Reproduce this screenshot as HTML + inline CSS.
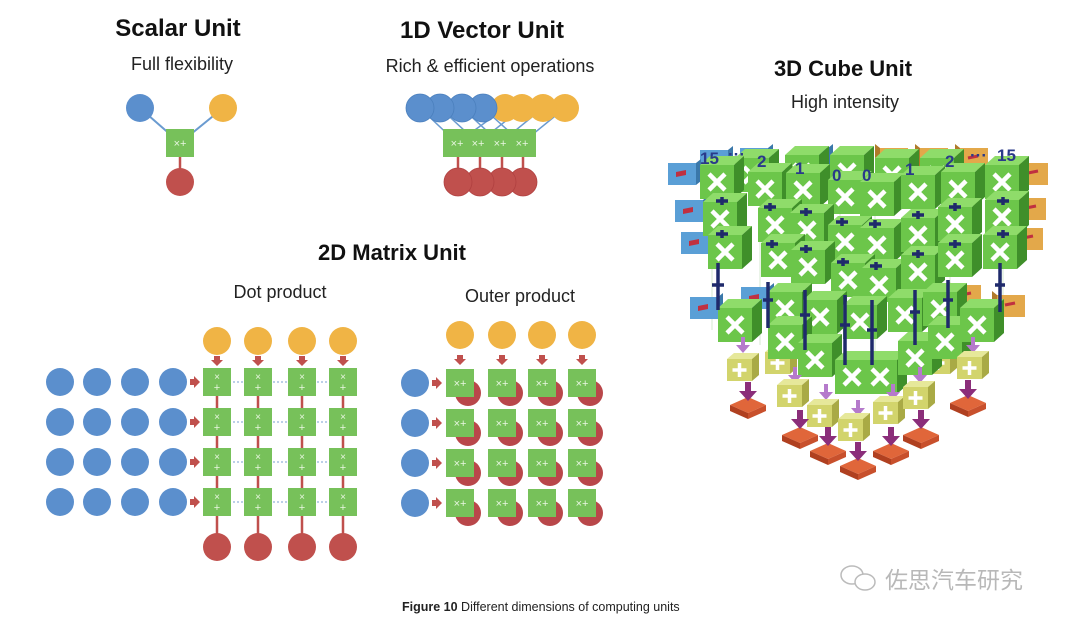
<!DOCTYPE html>
<html><head><meta charset="utf-8"><style>
html,body{margin:0;padding:0;background:#fff;}
svg{display:block;}
text{font-family:"Liberation Sans","Noto Sans CJK SC",sans-serif;}
</style></head><body>
<svg width="1080" height="627" viewBox="0 0 1080 627" xmlns="http://www.w3.org/2000/svg">
<defs>
<g id="gs"><rect x="-14" y="-14" width="28" height="28" fill="#77c15a"/><text x="0" y="-2" font-size="10" fill="#e8f6e0" text-anchor="middle">×</text><text x="0" y="9" font-size="11" fill="#e8f6e0" text-anchor="middle">+</text></g>
<g id="go"><rect x="-14" y="-14" width="28" height="28" fill="#77c15a"/><text x="0" y="4" font-size="11" fill="#e8f6e0" text-anchor="middle">×+</text></g>
<path id="ad" d="M-3,-5 h6 v4 h3 l-6,6 l-6,-6 h3z" fill="#c0504d"/>
<path id="ar" d="M-5,-3 v6 h4 v3 l6,-6 l-6,-6 v3z" fill="#c0504d"/>
<g id="cb"><path d="M0,0 l10,-9 h34 l-10,9z" fill="#8fdc6a"/><path d="M34,0 l10,-9 v34 l-10,9z" fill="#3f8f2a"/><rect width="34" height="34" fill="#6cc64a"/><path d="M9,9 l16,16 M25,9 l-16,16" stroke="#fff" stroke-width="4.5"/></g>
<g id="yb"><path d="M0,0 l7,-6 h25 l-7,6z" fill="#e6e89a"/><path d="M25,0 l7,-6 v22 l-7,6z" fill="#a9aa45"/><rect width="25" height="22" fill="#d2d46c"/><path d="M12.5,4 v14 M5.5,11 h14" stroke="#fff" stroke-width="3.5"/></g>
<g id="rb"><path d="M0,8 l18,-8 l18,8 l-18,8z" fill="#e0663a"/><path d="M0,8 l18,8 v6 l-18,-8z" fill="#b04020"/><path d="M36,8 l-18,8 v6 l18,-8z" fill="#c8502c"/></g>
<g id="bl"><rect width="28" height="22" fill="#5a9fd6"/><path d="M28,0 l5,-4 v22 l-5,4z" fill="#3a78aa"/><path d="M8,9 l10,-2 v5 l-10,2z" fill="#c03040"/></g>
<g id="or"><rect width="28" height="22" fill="#e3a84a"/><path d="M0,0 l-5,-4 v22 l5,4z" fill="#b07a2a"/><path d="M8,10 l10,-2" stroke="#c03040" stroke-width="3"/></g>
<path id="pa" d="M-2,-10 h4 v8 h5 l-7,8 l-7,-8 h5z" fill="#b57acb"/>
<path id="da" d="M-3,-10 h6 v9 h6 l-9,10 l-9,-10 h6z" fill="#8b2e7a"/>
</defs>

<text x="178" y="36" font-size="24" font-weight="bold" text-anchor="middle" fill="#111">Scalar Unit</text>
<text x="182" y="70" font-size="18" text-anchor="middle" fill="#222">Full flexibility</text>
<text x="482" y="38" font-size="24" font-weight="bold" text-anchor="middle" fill="#111">1D Vector Unit</text>
<text x="490" y="72" font-size="18" text-anchor="middle" fill="#222">Rich &amp; efficient operations</text>
<text x="843" y="76" font-size="22" font-weight="bold" text-anchor="middle" fill="#111">3D Cube Unit</text>
<text x="845" y="108" font-size="18" text-anchor="middle" fill="#222">High intensity</text>
<text x="392" y="260" font-size="22" font-weight="bold" text-anchor="middle" fill="#111">2D Matrix Unit</text>
<text x="280" y="298" font-size="18" text-anchor="middle" fill="#222">Dot product</text>
<text x="520" y="302" font-size="18" text-anchor="middle" fill="#222">Outer product</text>

<path d="M140,108 L180,143 L223,108" stroke="#6a9bd0" stroke-width="2" fill="none"/>
<line x1="180" y1="143" x2="180" y2="182" stroke="#c0504d" stroke-width="2.5"/>
<circle cx="140" cy="108" r="14" fill="#5b8fcd"/><circle cx="223" cy="108" r="14" fill="#f0b445"/>
<use href="#go" x="180" y="143"/>
<circle cx="180" cy="182" r="14" fill="#c0504d"/>

<g stroke="#6a9bd0" stroke-width="1.5">
<line x1="420" y1="108" x2="457" y2="143"/><line x1="440" y1="108" x2="478" y2="143"/><line x1="462" y1="108" x2="500" y2="143"/><line x1="483" y1="108" x2="522" y2="143"/>
<line x1="505" y1="108" x2="457" y2="143"/><line x1="522" y1="108" x2="478" y2="143"/><line x1="543" y1="108" x2="500" y2="143"/><line x1="565" y1="108" x2="522" y2="143"/>
</g>
<g stroke="#c0504d" stroke-width="2.5"><line x1="458" y1="143" x2="458" y2="182"/><line x1="480" y1="143" x2="480" y2="182"/><line x1="502" y1="143" x2="502" y2="182"/><line x1="523" y1="143" x2="523" y2="182"/></g>
<g fill="#f0b445"><circle cx="565" cy="108" r="14"/><circle cx="543" cy="108" r="14"/><circle cx="522" cy="108" r="14"/><circle cx="505" cy="108" r="14"/></g>
<g fill="#5b8fcd" stroke="#4a7fbd" stroke-width="0.8"><circle cx="483" cy="108" r="14"/><circle cx="462" cy="108" r="14"/><circle cx="440" cy="108" r="14"/><circle cx="420" cy="108" r="14"/></g>
<g><use href="#go" x="457" y="143"/><use href="#go" x="478" y="143"/><use href="#go" x="500" y="143"/><use href="#go" x="522" y="143"/></g>
<g fill="#c0504d" stroke="#b04040" stroke-width="0.8"><circle cx="523" cy="182" r="14"/><circle cx="502" cy="182" r="14"/><circle cx="480" cy="182" r="14"/><circle cx="458" cy="182" r="14"/></g>

<g stroke="#c0504d" stroke-width="2.5"><line x1="217" y1="382" x2="217" y2="547"/><line x1="258" y1="382" x2="258" y2="547"/><line x1="302" y1="382" x2="302" y2="547"/><line x1="343" y1="382" x2="343" y2="547"/></g>
<g stroke="#7a9fd0" stroke-width="1" stroke-dasharray="2,2"><line x1="217" y1="382" x2="343" y2="382"/><line x1="217" y1="422" x2="343" y2="422"/><line x1="217" y1="462" x2="343" y2="462"/><line x1="217" y1="502" x2="343" y2="502"/></g>
<g fill="#f0b445"><circle cx="217" cy="341" r="14"/><circle cx="258" cy="341" r="14"/><circle cx="302" cy="341" r="14"/><circle cx="343" cy="341" r="14"/></g>
<g fill="#c0504d"><circle cx="217" cy="547" r="14"/><circle cx="258" cy="547" r="14"/><circle cx="302" cy="547" r="14"/><circle cx="343" cy="547" r="14"/></g>
<g><use href="#ad" x="217" y="361"/><use href="#ad" x="258" y="361"/><use href="#ad" x="302" y="361"/><use href="#ad" x="343" y="361"/></g>
<g fill="#5b8fcd">
<circle cx="60" cy="382" r="14"/><circle cx="97" cy="382" r="14"/><circle cx="135" cy="382" r="14"/><circle cx="173" cy="382" r="14"/>
<circle cx="60" cy="422" r="14"/><circle cx="97" cy="422" r="14"/><circle cx="135" cy="422" r="14"/><circle cx="173" cy="422" r="14"/>
<circle cx="60" cy="462" r="14"/><circle cx="97" cy="462" r="14"/><circle cx="135" cy="462" r="14"/><circle cx="173" cy="462" r="14"/>
<circle cx="60" cy="502" r="14"/><circle cx="97" cy="502" r="14"/><circle cx="135" cy="502" r="14"/><circle cx="173" cy="502" r="14"/>
</g>
<g><use href="#ar" x="195" y="382"/><use href="#ar" x="195" y="422"/><use href="#ar" x="195" y="462"/><use href="#ar" x="195" y="502"/></g>
<g>
<use href="#gs" x="217" y="382"/><use href="#gs" x="258" y="382"/><use href="#gs" x="302" y="382"/><use href="#gs" x="343" y="382"/>
<use href="#gs" x="217" y="422"/><use href="#gs" x="258" y="422"/><use href="#gs" x="302" y="422"/><use href="#gs" x="343" y="422"/>
<use href="#gs" x="217" y="462"/><use href="#gs" x="258" y="462"/><use href="#gs" x="302" y="462"/><use href="#gs" x="343" y="462"/>
<use href="#gs" x="217" y="502"/><use href="#gs" x="258" y="502"/><use href="#gs" x="302" y="502"/><use href="#gs" x="343" y="502"/>
</g>

<g fill="#f0b445"><circle cx="460" cy="335" r="14"/><circle cx="502" cy="335" r="14"/><circle cx="542" cy="335" r="14"/><circle cx="582" cy="335" r="14"/></g>
<g><use href="#ad" x="460" y="360"/><use href="#ad" x="502" y="360"/><use href="#ad" x="542" y="360"/><use href="#ad" x="582" y="360"/></g>
<g fill="#5b8fcd"><circle cx="415" cy="383" r="14"/><circle cx="415" cy="423" r="14"/><circle cx="415" cy="463" r="14"/><circle cx="415" cy="503" r="14"/></g>
<g><use href="#ar" x="437" y="383"/><use href="#ar" x="437" y="423"/><use href="#ar" x="437" y="463"/><use href="#ar" x="437" y="503"/></g>
<g fill="#b9474a">
<circle cx="468" cy="393" r="13"/><circle cx="510" cy="393" r="13"/><circle cx="550" cy="393" r="13"/><circle cx="590" cy="393" r="13"/>
<circle cx="468" cy="433" r="13"/><circle cx="510" cy="433" r="13"/><circle cx="550" cy="433" r="13"/><circle cx="590" cy="433" r="13"/>
<circle cx="468" cy="473" r="13"/><circle cx="510" cy="473" r="13"/><circle cx="550" cy="473" r="13"/><circle cx="590" cy="473" r="13"/>
<circle cx="468" cy="513" r="13"/><circle cx="510" cy="513" r="13"/><circle cx="550" cy="513" r="13"/><circle cx="590" cy="513" r="13"/>
</g>
<g>
<use href="#go" x="460" y="383"/><use href="#go" x="502" y="383"/><use href="#go" x="542" y="383"/><use href="#go" x="582" y="383"/>
<use href="#go" x="460" y="423"/><use href="#go" x="502" y="423"/><use href="#go" x="542" y="423"/><use href="#go" x="582" y="423"/>
<use href="#go" x="460" y="463"/><use href="#go" x="502" y="463"/><use href="#go" x="542" y="463"/><use href="#go" x="582" y="463"/>
<use href="#go" x="460" y="503"/><use href="#go" x="502" y="503"/><use href="#go" x="542" y="503"/><use href="#go" x="582" y="503"/>
</g>

<!-- 3D Cube -->
<g stroke="#d6ead0" stroke-width="1" fill="none">
<path d="M712,195 V330 M760,200 V345 M800,205 V365 M840,210 V385 M875,210 V385 M913,205 V365 M950,200 V345 M1003,195 V330"/>
</g>
<g><use href="#bl" x="700" y="150"/><use href="#bl" x="740" y="148"/><use href="#bl" x="800" y="148"/><use href="#or" x="880" y="148"/><use href="#or" x="920" y="148"/><use href="#or" x="960" y="148"/></g>
<g><use href="#cb" x="735" y="158"/><use href="#cb" x="785" y="155"/><use href="#cb" x="830" y="155"/><use href="#cb" x="875" y="158"/><use href="#cb" x="920" y="158"/></g>
<g><use href="#bl" x="668" y="163"/><use href="#bl" x="675" y="200"/><use href="#bl" x="681" y="232"/><use href="#bl" x="690" y="297"/><use href="#bl" x="741" y="287"/></g>
<g><use href="#or" x="1020" y="163"/><use href="#or" x="1018" y="198"/><use href="#or" x="1015" y="228"/><use href="#or" x="997" y="295"/><use href="#or" x="953" y="285"/></g>
<g><use href="#cb" x="700" y="165"/><use href="#cb" x="748" y="172"/><use href="#cb" x="786" y="173"/><use href="#cb" x="828" y="180"/><use href="#cb" x="860" y="182"/><use href="#cb" x="901" y="175"/><use href="#cb" x="941" y="172"/><use href="#cb" x="985" y="165"/></g>
<g><use href="#cb" x="703" y="202"/><use href="#cb" x="758" y="208"/><use href="#cb" x="790" y="213"/><use href="#cb" x="828" y="225"/><use href="#cb" x="860" y="228"/><use href="#cb" x="901" y="218"/><use href="#cb" x="938" y="207"/><use href="#cb" x="985" y="200"/></g>
<g><use href="#cb" x="708" y="235"/><use href="#cb" x="761" y="243"/><use href="#cb" x="791" y="250"/><use href="#cb" x="831" y="263"/><use href="#cb" x="862" y="268"/><use href="#cb" x="901" y="255"/><use href="#cb" x="938" y="243"/><use href="#cb" x="983" y="235"/></g>
<g><use href="#cb" x="768" y="292"/><use href="#cb" x="803" y="300"/><use href="#cb" x="843" y="305"/><use href="#cb" x="888" y="298"/><use href="#cb" x="923" y="292"/></g>
<g><use href="#yb" x="765" y="352"/><use href="#yb" x="925" y="352"/></g>
<g><use href="#cb" x="718" y="308"/><use href="#cb" x="768" y="325"/><use href="#cb" x="798" y="343"/><use href="#cb" x="835" y="360"/><use href="#cb" x="863" y="360"/><use href="#cb" x="898" y="341"/><use href="#cb" x="928" y="325"/><use href="#cb" x="960" y="308"/></g>
<g stroke="#1f2a6b" stroke-width="3.5">
<path d="M718,263 V310 M712,285 h12 M768,282 V328 M763,300 h10 M805,290 V350 M800,315 h10 M845,295 V365 M840,325 h10 M872,300 V365 M867,330 h10 M915,290 V345 M910,312 h10 M948,280 V328 M943,300 h10 M1000,263 V312 M995,285 h10"/>
<path d="M722,197 V205 M716,201 h12 M722,230 V238 M716,234 h12 M770,203 V211 M764,207 h12 M806,208 V216 M800,212 h12 M842,218 V226 M836,222 h12 M875,220 V228 M869,224 h12 M918,211 V219 M912,215 h12 M955,203 V211 M949,207 h12 M1003,197 V205 M997,201 h12 M1003,230 V238 M997,234 h12 M772,240 V248 M766,244 h12 M806,245 V253 M800,249 h12 M843,258 V266 M837,262 h12 M876,262 V270 M870,266 h12 M918,250 V258 M912,254 h12 M955,240 V248 M949,244 h12"/>
</g>
<g font-size="17" font-weight="bold" fill="#2a3a8a">
<text x="700" y="164">15</text><text x="728" y="160">···</text><text x="757" y="167">2</text><text x="795" y="174">1</text><text x="832" y="181">0</text><text x="862" y="181">0</text><text x="905" y="175">1</text><text x="945" y="167">2</text><text x="970" y="161">···</text><text x="997" y="161">15</text>
</g>
<g><use href="#pa" x="743" y="347"/><use href="#pa" x="973" y="347"/><use href="#pa" x="795" y="377"/><use href="#pa" x="826" y="394"/><use href="#pa" x="858" y="410"/><use href="#pa" x="893" y="394"/><use href="#pa" x="920" y="377"/></g>
<g><use href="#yb" x="727" y="359"/><use href="#yb" x="957" y="357"/><use href="#yb" x="777" y="385"/><use href="#yb" x="807" y="405"/><use href="#yb" x="838" y="419"/><use href="#yb" x="873" y="402"/><use href="#yb" x="903" y="387"/></g>
<g><use href="#rb" x="730" y="397"/><use href="#rb" x="950" y="395"/><use href="#rb" x="782" y="427"/><use href="#rb" x="903" y="427"/><use href="#rb" x="810" y="443"/><use href="#rb" x="873" y="443"/><use href="#rb" x="840" y="458"/></g>
<g><use href="#da" x="748" y="392"/><use href="#da" x="968" y="390"/><use href="#da" x="800" y="420"/><use href="#da" x="921" y="420"/><use href="#da" x="828" y="437"/><use href="#da" x="891" y="437"/><use href="#da" x="858" y="452"/></g>

<g fill="none" stroke="#bbb" stroke-width="1.5">
<ellipse cx="852" cy="575" rx="11" ry="9"/><ellipse cx="865" cy="582" rx="10" ry="8" fill="#fff"/>
</g>
<text x="885" y="588" font-size="23" fill="#b8b8b8">佐思汽车研究</text>

<text x="402" y="611" font-size="12.5" fill="#222"><tspan font-weight="bold">Figure 10</tspan> Different dimensions of computing units</text>
</svg>
</body></html>
